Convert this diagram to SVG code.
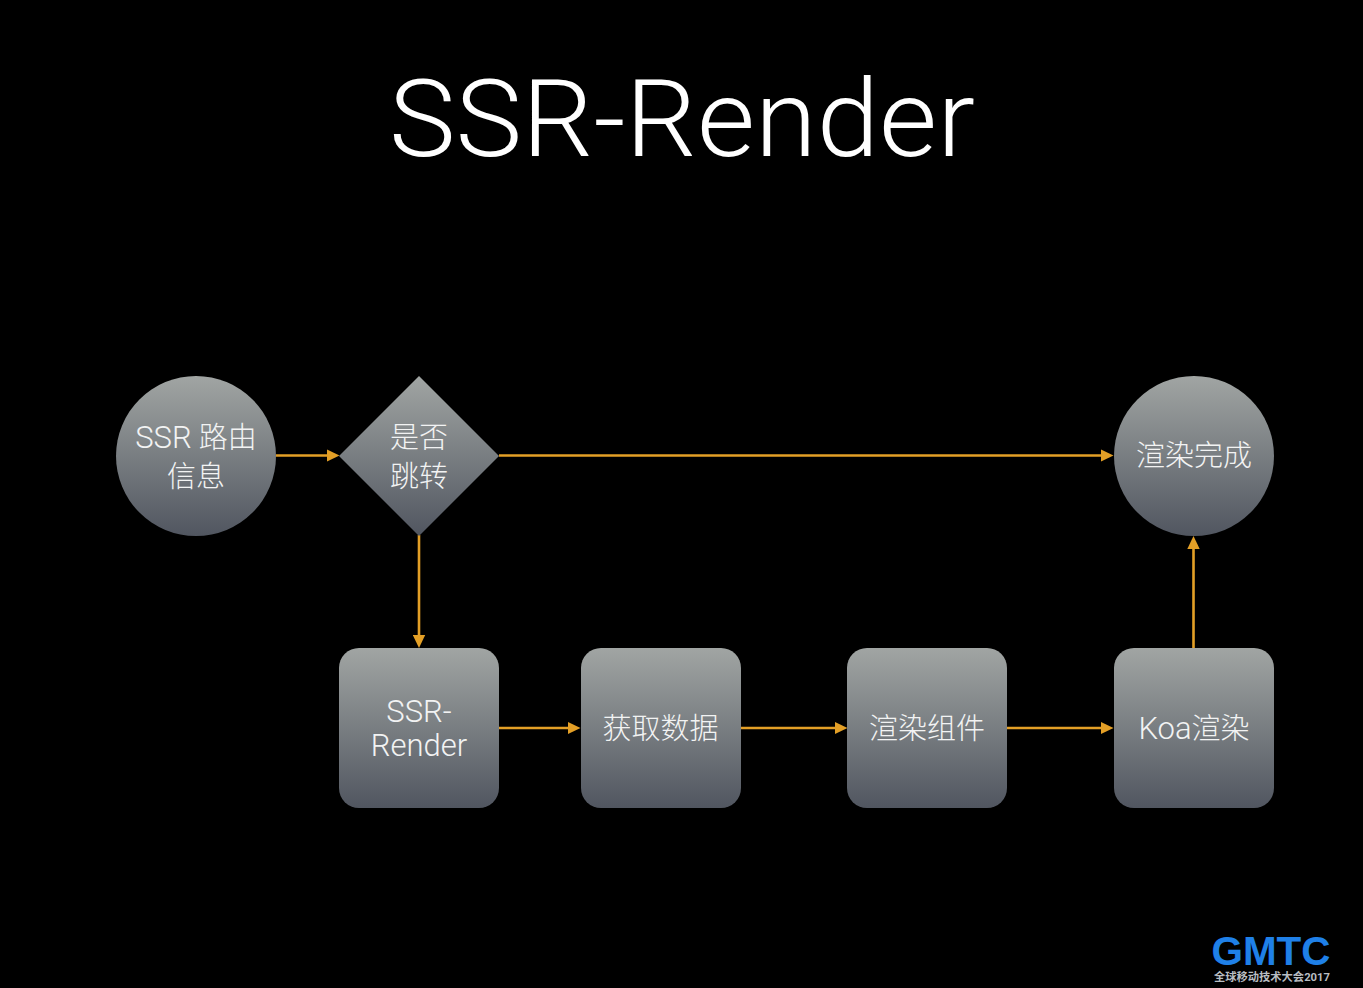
<svg xmlns="http://www.w3.org/2000/svg" width="1363" height="988" viewBox="0 0 1363 988">
<style>
text{font-family:"Roboto","Liberation Sans","Noto Sans CJK SC",sans-serif;font-weight:300;fill:#fff;text-anchor:middle}
.l{font-size:29px;fill:#f2f3f3}
.e{font-size:31px}
.n{fill:url(#g)}
.c{fill:none;stroke:#e39f26;stroke-width:2.6;marker-end:url(#a)}
</style>
<defs>
<linearGradient id="g" x1="0" y1="0" x2="0" y2="1"><stop offset="0" stop-color="#a1a5a3"/><stop offset="1" stop-color="#515660"/></linearGradient>
<marker id="a" markerUnits="userSpaceOnUse" markerWidth="13" markerHeight="13" refX="7" refY="6.5" orient="auto"><path d="M0 0.3L13 6.5L0 12.7Z" fill="#e39f26"/></marker>
</defs>
<rect width="1363" height="988" fill="#000"/>
<text x="682" y="156" font-size="107" textLength="586" lengthAdjust="spacingAndGlyphs">SSR-Render</text>
<g id="connectors">
<path class="c" d="M276 455.500H333.500"/>
<path class="c" d="M499 455.500H1107.500"/>
<path class="c" d="M419 535V642"/>
<path class="c" d="M499 728H574.500"/>
<path class="c" d="M741 728H841.500"/>
<path class="c" d="M1007 728H1107.500"/>
<path class="c" d="M1193.500 648V542"/>
</g>
<g id="n1"><circle class="n" cx="196" cy="456" r="80"/><text class="l" x="196" y="448"><tspan class="e">SSR</tspan> 路由</text><text class="l" x="196" y="487">信息</text></g>
<g id="n2"><path class="n" d="M419 376L499 456L419 536L339 456Z"/><text class="l" x="419" y="448">是否</text><text class="l" x="419" y="487">跳转</text></g>
<g id="n3"><circle class="n" cx="1194" cy="456" r="80"/><text class="l" x="1194" y="466">渲染完成</text></g>
<g id="n4"><rect class="n" x="339" y="648" width="160" height="160" rx="20"/><text class="l e" x="419" y="722">SSR-</text><text class="l e" x="419" y="756">Render</text></g>
<g id="n5"><rect class="n" x="581" y="648" width="160" height="160" rx="20"/><text class="l" x="660.500" y="739">获取数据</text></g>
<g id="n6"><rect class="n" x="847" y="648" width="160" height="160" rx="20"/><text class="l" x="927" y="739">渲染组件</text></g>
<g id="n7"><rect class="n" x="1114" y="648" width="160" height="160" rx="20"/><text class="l" x="1194" y="739"><tspan class="e">Koa</tspan>渲染</text></g>
<g id="logo"><text x="1271" y="965" font-size="40" textLength="119" lengthAdjust="spacingAndGlyphs" style="font-weight:700;fill:#1f80e8;font-family:'Liberation Sans',sans-serif">GMTC</text><text x="1272" y="981" font-size="11" textLength="116" lengthAdjust="spacingAndGlyphs" style="font-weight:700;fill:#b9bdc2">全球移动技术大会2017</text></g>
</svg>
